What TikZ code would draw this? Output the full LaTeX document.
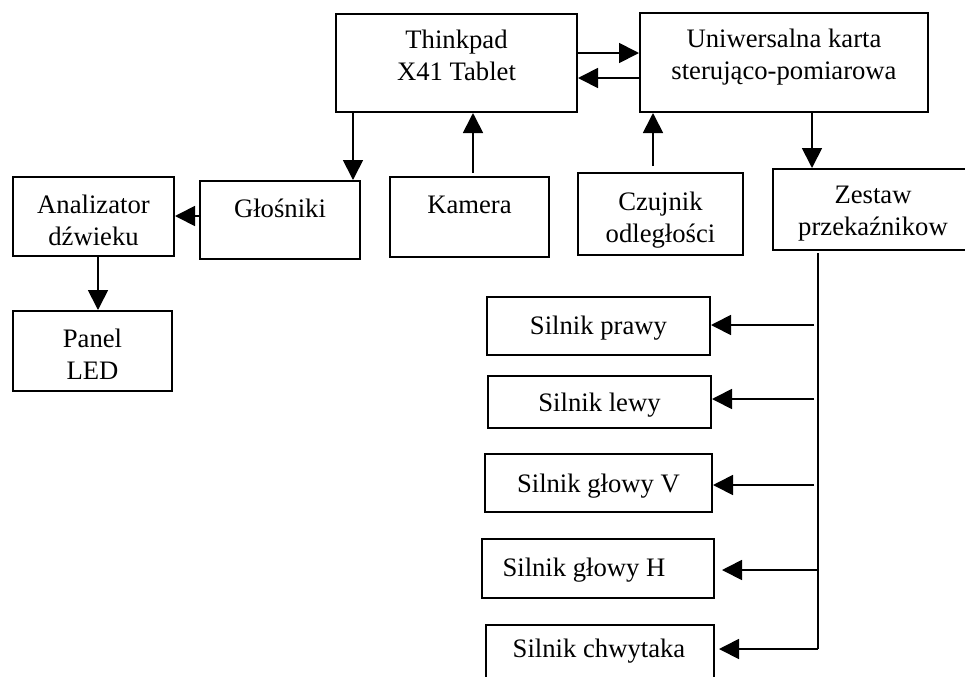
\documentclass[tikz,border=0pt]{standalone}
\usepackage{fontspec}
\setmainfont{Liberation Serif}
\usetikzlibrary{arrows.meta}
\newcommand\twol[2]{\vtop{\halign{\hfil##\hfil\cr #1\cr #2\cr}}}
\tikzset{
  box/.style={draw, line width=1.5pt, inner sep=0pt},
  lbl/.style={inner sep=0pt, anchor=base, font=\fontsize{20}{24}\selectfont},
  conn/.style={line width=1.3pt},
  arr/.style={conn, -{Triangle[length=15pt,width=15pt]}},
}
\begin{document}
\begin{tikzpicture}[x=0.75pt,y=-0.75pt]
\useasboundingbox (0,0) rectangle (965,676);
\clip (0,0) rectangle (965,676);
% boxes
\node[box, minimum width=241*0.75pt, minimum height=98*0.75pt] (bThink) at (456.5,63) {};
\node[box, minimum width=288*0.75pt, minimum height=99*0.75pt] (bUni) at (784,62.5) {};
\node[box, minimum width=161*0.75pt, minimum height=79*0.75pt] (bAnal) at (93.5,216.5) {};
\node[box, minimum width=160*0.75pt, minimum height=78*0.75pt] (bGlos) at (280,220) {};
\node[box, minimum width=159*0.75pt, minimum height=80*0.75pt] (bKam) at (469.5,217) {};
\node[box, minimum width=165*0.75pt, minimum height=82*0.75pt] (bCzuj) at (660.5,214) {};
\node[box, minimum width=202*0.75pt, minimum height=81*0.75pt] (bZest) at (874,209.5) {};
\node[box, minimum width=159*0.75pt, minimum height=80*0.75pt] (bPanel) at (92.5,351) {};
\node[box, minimum width=223*0.75pt, minimum height=58*0.75pt] (bPrawy) at (598.5,326) {};
\node[box, minimum width=223*0.75pt, minimum height=52*0.75pt] (bLewy) at (599.5,402) {};
\node[box, minimum width=227*0.75pt, minimum height=58*0.75pt] (bV) at (598.5,483) {};
\node[box, minimum width=232*0.75pt, minimum height=59*0.75pt] (bH) at (598,568.5) {};
\node[box, minimum width=228*0.75pt, minimum height=75*0.75pt] (bChw) at (600,662.5) {};
% labels
\node[lbl] (tThink) at (456.5,48) {\twol{Thinkpad}{X41 Tablet}};
\node[lbl] (tUni) at (784,47) {\twol{Uniwersalna karta}{sterująco-pomiarowa}};
\node[lbl] (tAnal) at (93.5,213) {\twol{Analizator}{dźwieku}};
\node[lbl] (tGlos) at (280,217) {Głośniki};
\node[lbl] (tKam) at (469.5,213) {Kamera};
\node[lbl] (tCzuj) at (660.5,210) {\twol{Czujnik}{odległości}};
\node[lbl] (tZest) at (873,203) {\twol{Zestaw}{przekaźnikow}};
\node[lbl] (tPanel) at (92.5,347) {\twol{Panel}{LED}};
\node[lbl] (tPrawy) at (598.5,334) {Silnik prawy};
\node[lbl] (tLewy) at (599.5,411) {Silnik lewy};
\node[lbl] (tV) at (598.5,492) {Silnik głowy V};
\node[lbl] (tH) at (584,576) {Silnik głowy H};
\node[lbl] (tChw) at (599,657) {Silnik chwytaka};
% bus coordinates
\coordinate (busTop) at (818,253);
\coordinate (busBot) at (818,649);
\coordinate (sPrawy) at (814,325);
\coordinate (sLewy) at (814,399);
\coordinate (sV) at (814,485);
\coordinate (sH) at (818,570);
% connectors
\draw[arr] (bThink.east |- 0,53) -- (bUni.west |- 0,53);
\draw[arr] (bUni.west |- 0,78) -- (bThink.east |- 0,78);
\draw[arr] (bThink.south -| 353,0) -- (bGlos.north -| 353,0);
\draw[arr, shorten <=3*0.75pt] (bKam.north -| 473,0) -- (bThink.south -| 473,0);
\draw[arr, shorten <=6*0.75pt] (bCzuj.north -| 653,0) -- (bUni.south -| 653,0);
\draw[arr] (bUni.south -| 812,0) -- (bZest.north -| 812,0);
\draw[arr] (bGlos.west |- 0,216) -- (bAnal.east |- 0,216);
\draw[arr] (bAnal.south -| 98,0) -- (bPanel.north -| 98,0);
\draw[conn] (busTop) -- (busBot);
\draw[arr] (sPrawy) -- (bPrawy.east |- sPrawy);
\draw[arr] (sLewy) -- (bLewy.east |- sLewy);
\draw[arr] (sV) -- (bV.east |- sV);
\draw[arr, shorten >=7*0.75pt] (sH) -- (bH.east |- sH);
\draw[arr, shorten >=4*0.75pt] (busBot) -- (bChw.east |- busBot);
\end{tikzpicture}
\end{document}
